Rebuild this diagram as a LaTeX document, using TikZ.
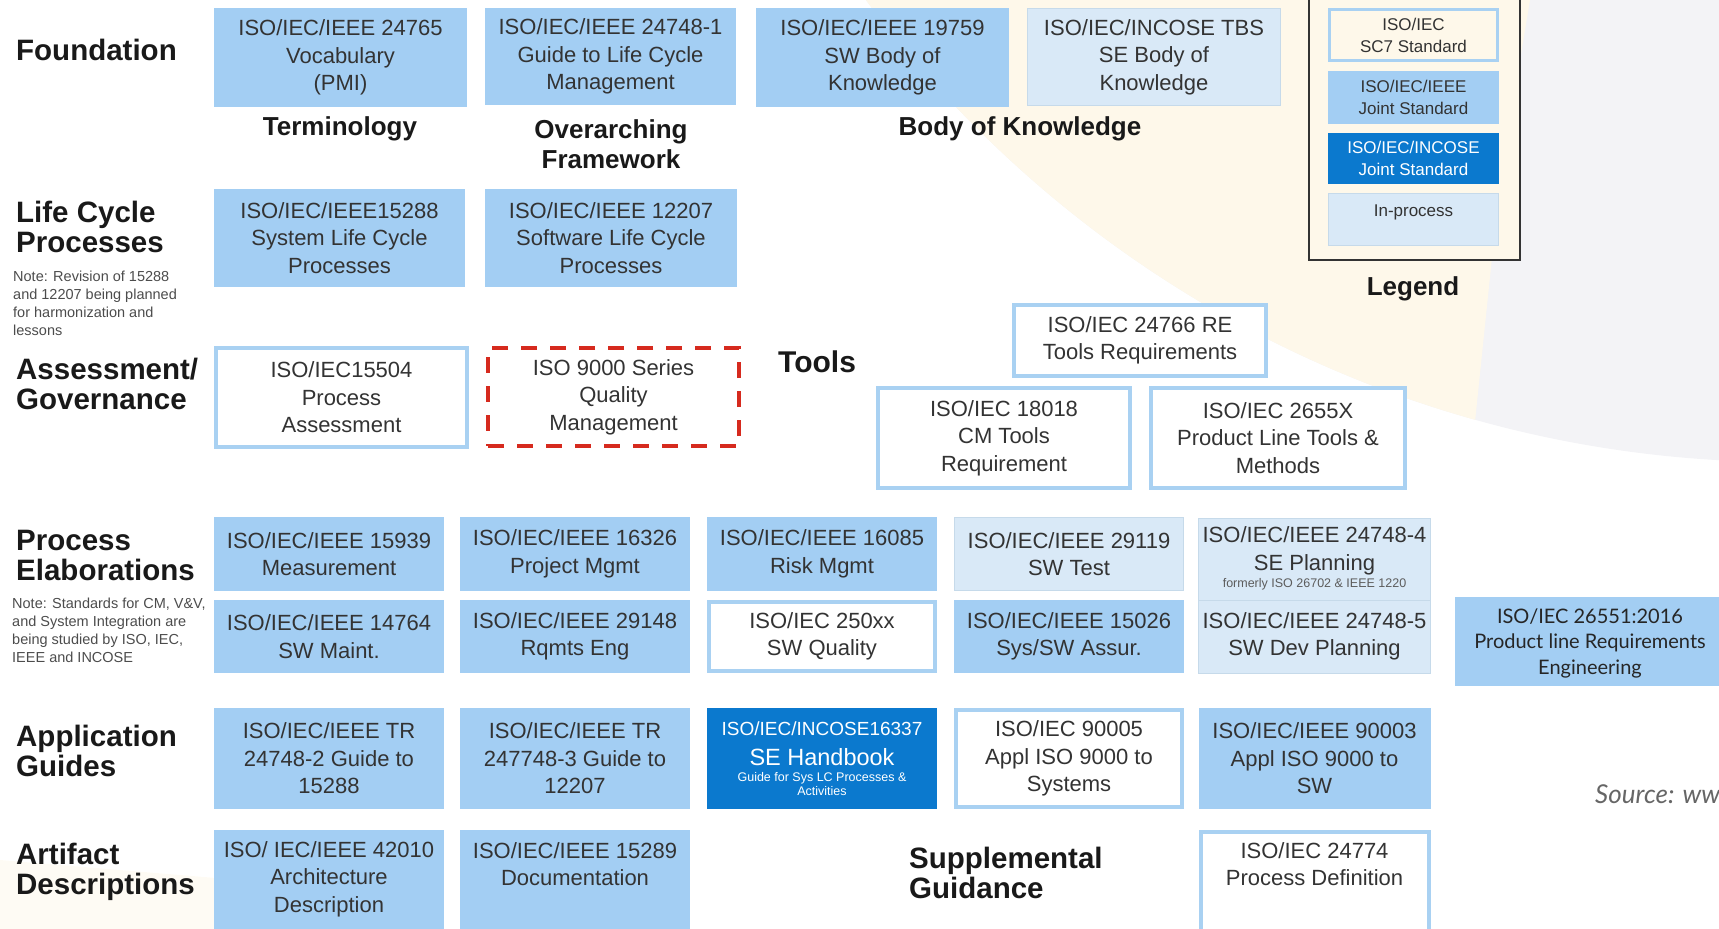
\documentclass[tikz,border=0pt]{standalone}
\usepackage{fontspec}
\setmainfont{Liberation Sans}
\newfontfamily\gillfont{Lato}
\definecolor{lblue}{HTML}{A3CEF3}
\definecolor{dblue}{HTML}{0B79CE}
\definecolor{bord}{HTML}{A9D1F2}
\definecolor{ipfill}{HTML}{D9E9F7}
\definecolor{ipbord}{HTML}{C6DAEA}
\definecolor{txt}{HTML}{333333}
\definecolor{redd}{HTML}{D62A1E}
\definecolor{cream}{HTML}{FEF8EA}
\definecolor{globe}{HTML}{F3F3F6}
\newcommand{\fs}[2]{\fontsize{#1}{#2}\selectfont}
\tikzset{
  std/.style={rectangle, inner sep=0pt, align=center, text=txt, font=\fs{22}{27.5}},
  sz/.style 2 args={minimum width=#1, minimum height=#2},
  lb/.style={std, fill=lblue},
  wb/.style={std, fill=white, draw=bord, line width=4pt},
  ip/.style={std, fill=ipfill, draw=ipbord, line width=1pt},
  db/.style={std, fill=dblue, text=white},
  rd/.style={std, draw=redd, line width=4.5pt, dash pattern=on 16pt off 13pt},
  rowlab/.style={anchor=west, align=left, inner sep=0pt, text=black!90, font=\bfseries\fs{29.5}{30}},
  sublab/.style={align=center, inner sep=0pt, text=black!90, font=\bfseries\fs{26}{29.5}},
  note/.style={anchor=north west, align=left, inner sep=0pt, text=black!70, font=\fs{14.5}{18}},
}
\begin{document}
\begin{tikzpicture}[x=1pt, y=-1pt]
\useasboundingbox (0,0) rectangle (1719,929);
\begin{scope}
\clip (0,0) rectangle (1719,929);
% faint globe in the background
\fill[globe] (1784,-681) circle[radius=1143pt];
\begin{scope}
  \clip (1784,-681) circle[radius=1143pt];
  \fill[cream] (0,0) -- (1530,0) -- (1500,180) -- (1470,470) -- (0,470) -- cycle;
\end{scope}
\fill[cream, opacity=0.5] (0,860) -- (300,885) -- (280,929) -- (0,929) -- cycle;
\fill[cream, opacity=0.6] (1330,830) -- (1420,830) -- (1360,929) -- (1270,929) -- cycle;

% row labels
\node[rowlab] (foundation) at (16,50) {Foundation};
\node[rowlab] (lifecycle) at (16,226.5) {Life Cycle\\Processes};
\node[note] (lcnote) at (13,271) {Note: Revision of 15288\\and 12207 being planned\\for harmonization and\\lessons};
\node[rowlab] (assess) at (16,384) {Assessment/\\Governance};
\node[rowlab] (procelab) at (16,555.5) {Process\\Elaborations};
\node[note] (penote) at (12,598) {Note: Standards for CM, V\&V,\\and System Integration are\\being studied by ISO, IEC,\\IEEE and INCOSE};
\node[rowlab] (appguides) at (16,750.5) {Application\\Guides};
\node[rowlab] (artifact) at (16,872) {Artifact\\Descriptions};
\node[rowlab] (suppl) at (909,872.5) {Supplemental\\Guidance};
\node[rowlab, font=\bfseries\fs{30}{30}] (tools) at (778,362) {Tools};

% foundation
\node[lb, sz={253pt}{99pt}] (f1) at (340.5,57.5) {ISO/IEC/IEEE 24765\\Vocabulary\\(PMI)};
\node[lb, sz={251pt}{97pt}] (f2) at (610.5,56.5) {ISO/IEC/IEEE 24748-1\\Guide to Life Cycle\\Management};
\node[lb, sz={253pt}{99pt}] (f3) at (882.5,57.5) {ISO/IEC/IEEE 19759\\SW Body of\\Knowledge};
\node[ip, sz={253pt}{97pt}] (f4) at (1154,57) {ISO/IEC/INCOSE TBS\\SE Body of\\Knowledge};
\node[sublab] (term) at (340,129) {Terminology};
\node[sublab] (frame) at (611,144) {Overarching\\Framework};
\node[sublab] (bok) at (1020,129) {Body of Knowledge};

% legend
\node[draw=black!80, line width=2pt, fill=cream, minimum width=211pt, minimum height=268pt, inner sep=0pt] (legendframe) at (1414.5,126) {};
\node[std, fill=cream, draw=bord, line width=3pt, sz={168pt}{51pt}, font=\fs{17}{22}] (lg1) at (1413.5,35) {ISO/IEC\\SC7 Standard};
\node[lb, sz={171pt}{53pt}, font=\fs{17}{22}] (lg2) at (1413.5,97.5) {ISO/IEC/IEEE\\Joint Standard};
\node[db, sz={171pt}{51pt}, font=\fs{17}{22}] (lg3) at (1413.5,158.5) {ISO/IEC/INCOSE\\Joint Standard};
\node[ip, sz={170pt}{52pt}] (lg4) at (1413.5,219.5) {};
\node[std, font=\fs{17}{22}] (lg4t) at (1413.5,212) {In-process};
\node[sublab] (legend) at (1413,289) {Legend};

% life cycle processes
\node[lb, sz={251pt}{98pt}] (l1) at (339.5,238) {ISO/IEC/IEEE15288\\System Life Cycle\\Processes};
\node[lb, sz={252pt}{98pt}] (l2) at (611,238) {ISO/IEC/IEEE 12207\\Software Life Cycle\\Processes};

% assessment / governance
\node[wb, sz={251pt}{99pt}] (a1) at (341.5,397.5) {ISO/IEC15504\\Process\\Assessment};
\node[rd, sz={251pt}{98pt}] (a2) at (613.5,397) {ISO 9000 Series\\Quality\\Management};

% tools
\node[wb, sz={252pt}{71pt}] (t1) at (1140,340.5) {ISO/IEC 24766 RE\\Tools Requirements};
\node[wb, sz={252pt}{100pt}] (t2) at (1004,438) {ISO/IEC 18018\\CM Tools\\Requirement};
\node[wb, sz={254pt}{100pt}] (t3) at (1278,438) {ISO/IEC 2655X\\Product Line Tools \&\\Methods};

% process elaborations
\node[lb, sz={230pt}{74pt}] (p11) at (329,554) {ISO/IEC/IEEE 15939\\Measurement};
\node[lb, sz={230pt}{74pt}] (p12) at (575,554) {ISO/IEC/IEEE 16326\\Project Mgmt};
\node[lb, sz={230pt}{74pt}] (p13) at (822,554) {ISO/IEC/IEEE 16085\\Risk Mgmt};
\node[ip, sz={229pt}{73pt}] (p14) at (1069,554) {ISO/IEC/IEEE 29119\\SW Test};
\node[ip, sz={232pt}{82pt}] (p15) at (1314.5,559) {};
\node[std, text=txt] (p15t) at (1314.5,551) {ISO/IEC/IEEE 24748-4\\SE Planning};
\node[std, font=\fs{12.5}{14}, text=txt!80] (p15n) at (1314.5,584) {formerly ISO 26702 \& IEEE 1220};
\node[lb, sz={230pt}{73pt}] (p21) at (329,636.5) {ISO/IEC/IEEE 14764\\SW Maint.};
\node[lb, sz={230pt}{73pt}] (p22) at (575,636.5) {ISO/IEC/IEEE 29148\\Rqmts Eng};
\node[wb, sz={226pt}{69pt}] (p23) at (822,636.5) {ISO/IEC 250xx\\SW Quality};
\node[lb, sz={230pt}{73pt}] (p24) at (1069,636.5) {ISO/IEC/IEEE 15026\\Sys/SW Assur.};
\node[ip, sz={232pt}{73pt}] (p25) at (1314.5,636.5) {ISO/IEC/IEEE 24748-5\\SW Dev Planning};

% application guides
\node[lb, sz={230pt}{101pt}] (g1) at (329,758.5) {ISO/IEC/IEEE TR\\24748-2 Guide to\\15288};
\node[lb, sz={230pt}{101pt}] (g2) at (575,758.5) {ISO/IEC/IEEE TR\\247748-3 Guide to\\12207};
\node[db, sz={230pt}{101pt}] (g3) at (822,758.5) {};
\node[std, text=white, font=\fs{19}{22}] (g3a) at (822,729) {ISO/IEC/INCOSE16337};
\node[std, text=white, font=\fs{23.5}{24}] (g3b) at (822,757) {SE Handbook};
\node[std, text=white, font=\fs{12.5}{14}] (g3c) at (822,784) {Guide for Sys LC Processes \&\\Activities};
\node[wb, sz={226pt}{97pt}] (g4) at (1069,758.5) {ISO/IEC 90005\\Appl ISO 9000 to\\Systems};
\node[lb, sz={232pt}{101pt}] (g5) at (1314.5,758.5) {ISO/IEC/IEEE 90003\\Appl ISO 9000 to\\SW};

% artifact descriptions and supplemental guidance
\node[lb, sz={230pt}{105pt}] (d1) at (329,882.5) {};
\node[std, anchor=north] (d1t) at (329,841) {ISO/ IEC/IEEE 42010\\Architecture\\Description};
\node[lb, sz={230pt}{105pt}] (d2) at (575,882.5) {};
\node[std, anchor=north] (d2t) at (575,842) {ISO/IEC/IEEE 15289\\Documentation};
\node[wb, sz={228pt}{101pt}] (d5) at (1314.5,882.5) {};
\node[std, anchor=north] (d5t) at (1314.5,842) {ISO/IEC 24774\\Process Definition};

% product line requirements box on the right
\node[rectangle, fill=lblue, inner sep=0pt, sz={270pt}{89pt}] (pl) at (1590,641.5) {};
\node[align=center, inner sep=0pt, text=black!85, font=\gillfont\fs{20}{25.5}] (plt) at (1590,643) {ISO/IEC 26551:2016\\Product line Requirements\\Engineering};
\node[anchor=west, inner sep=0pt, text=black!60, font=\gillfont\itshape\fs{26}{30}] (src) at (1595,794) {Source: ww};
\end{scope}
\end{tikzpicture}
\end{document}
